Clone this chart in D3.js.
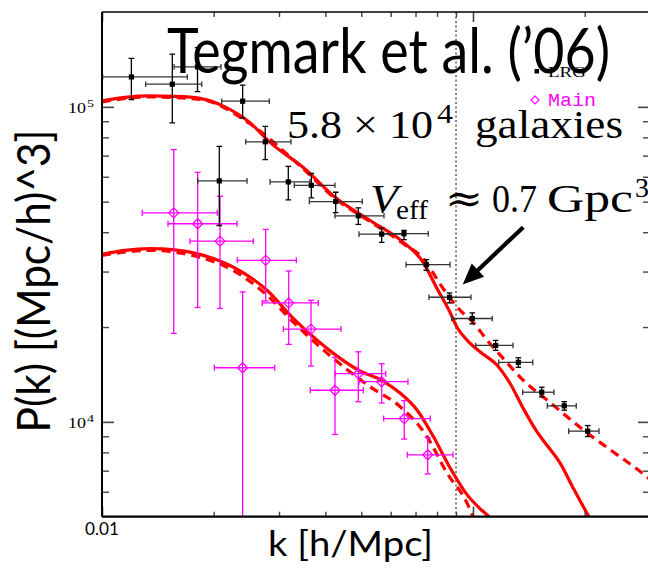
<!DOCTYPE html>
<html>
<head>
<meta charset="utf-8">
<script src="https://cdn.jsdelivr.net/npm/d3@7"></script>
<style>
  body { margin: 0; background: #fff; }
  svg { display: block; }
</style>
</head>
<body>
<svg id="chart" width="648" height="568"></svg>
<script>
// ---- LRG band powers (black squares) ----
const lrgK   = [0.0120, 0.01547, 0.01809, 0.02394, 0.02071, 0.02755, 0.03178, 0.03666, 0.04265, 0.04908,
                0.05674, 0.06516, 0.07483, 0.08644, 0.09956, 0.1151, 0.1325, 0.1532, 0.1762, 0.2038];
const lrgKlo = [0.01004, 0.01311, 0.01564, 0.02102, 0.01811, 0.0244, 0.02837, 0.03298, 0.03621, 0.04246,
                0.04929, 0.05674, 0.06598, 0.0761, 0.08761, 0.1017, 0.1173, 0.1361, 0.1586, 0.1811];
const lrgKhi = [0.01698, 0.01857, 0.02093, 0.02824, 0.0246, 0.03232, 0.03636, 0.04246, 0.05031, 0.05756,
                0.06516, 0.07577, 0.0867, 0.09877, 0.1127, 0.1282, 0.1449, 0.1653, 0.1898, 0.2186];
const lrgP   = [124400, 118000, 133900, 104200, 58200, 77460, 57770, 56350, 50050, 45090,
                39450, 39560, 31550, 24860, 21290, 17480, 15450, 12420, 11240, 9345];
const lrgPhi = [142600, 146900, 154100, 117200, 74870, 86650, 64740, 61520, 53560, 47800,
                41310, 40520, 32730, 25660, 22180, 18140, 15980, 12880, 11590, 9734];
const lrgPlo = [105500, 89000, 111800, 92100, 42010, 67970, 50670, 51420, 46180, 42330,
                37110, 37860, 30270, 23850, 20470, 16860, 14900, 12000, 10890, 8984];

// ---- Main sample band powers (magenta diamonds) ----
const mainK   = [0.01561, 0.01811, 0.0208, 0.02762, 0.03186, 0.02394, 0.03659, 0.04246, 0.04908, 0.05674, 0.06528, 0.07549];
const mainKlo = [0.01284, 0.01506, 0.01726, 0.02315, 0.02704, 0.02008, 0.03081, 0.03643, 0.04246, 0.04929, 0.05745, 0.06651];
const mainKhi = [0.02046, 0.02311, 0.02557, 0.0334, 0.03828, 0.02921, 0.04408, 0.05063, 0.05817, 0.0668, 0.07672, 0.08833];
const mainP   = [46080, 42540, 37470, 32560, 23850, 14850, 19700, 12600, 14220, 13410, 10240, 7860];
const mainPhi = [73100, 61980, 52020, 40820, 30120, 25850, 24330, 16020, 16690, 15290, 11680, 8918];
const mainPlo = [19090, 23070, 22900, 24200, 17620, 3000, 15040, 9117, 11590, 11480, 8817, 6831];

// ---- Model spectra: solid = linear (with wiggles), dashed = nonlinear ----
const lrgLinK = [0.0100, 0.01153, 0.01347, 0.01573, 0.01837, 0.02145, 0.02506, 0.02837, 0.03482, 0.0430,
                 0.05278, 0.06477, 0.07332, 0.07998, 0.0867, 0.09054, 0.09634, 0.1044, 0.1160, 0.1258,
                 0.1364, 0.1488, 0.1564, 0.1716, 0.1860, 0.2054, 0.212];
const lrgLinP = [104500, 107200, 108300, 107900, 106400, 100000, 89000, 77090, 64280, 51050,
                 43570, 37200, 32160, 26500, 22290, 19980, 18180, 16690, 15150, 13260,
                 11070, 9297, 8581, 7410, 6182, 5000, 4700];
const lrgNlK = [0.0100, 0.01347, 0.01837, 0.02506, 0.03482, 0.0430, 0.05278, 0.06477, 0.07332, 0.08301,
                0.09226, 0.1, 0.1091, 0.1204, 0.1339, 0.1643, 0.2029, 0.2384, 0.2963, 0.31];
const lrgNlP = [103700, 107500, 105600, 88350, 63680, 50600, 43260, 36850, 33040, 26550,
                22620, 20730, 18180, 15940, 13880, 11320, 9230, 8040, 6649, 6350];
const mainLinK = [0.0100, 0.01153, 0.01347, 0.01573, 0.01837, 0.02255, 0.02784, 0.03272, 0.03822, 0.04195,
                  0.0496, 0.05721, 0.06357, 0.07065, 0.07801, 0.0867, 0.09634, 0.1044, 0.1104, 0.114];
const mainLinP = [34010, 35020, 35450, 35150, 34010, 31010, 26170, 21340, 18050, 16530,
                  14500, 13480, 12350, 10910, 9031, 7153, 5875, 5307, 5000, 4800];
const mainNlK = [0.0100, 0.01347, 0.01837, 0.02255, 0.02784, 0.03272, 0.04042, 0.05278, 0.06357, 0.07516,
                 0.0851, 0.09634, 0.1, 0.103];
const mainNlP = [33770, 35020, 33280, 30270, 25230, 20770, 16530, 12930, 11180, 8984,
                 6881, 5531, 5000, 4700];

// ---- Axis ticks ----
const kMajor = [0.01, 0.1];
const kMinor = [0.02, 0.03, 0.04, 0.05, 0.06, 0.07, 0.08, 0.09, 0.2, 0.3];
const pMajor = [1e4, 1e5];
const pMinor = [6000, 7000, 8000, 9000, 20000, 30000, 40000, 50000, 60000, 70000, 80000, 90000];
const kMarker = 0.09;   // dotted vertical reference

const svg = d3.select("#chart");
const L = 102, R = 650, T = 12, B = 516.7;

const x = d3.scaleLog().domain([0.01, 0.3]).range([L, R]);
const y = d3.scaleLog().domain([5000, 2e5]).range([B, T]);

svg.append("rect").attr("width", 648).attr("height", 568).attr("fill", "#fff");

svg.append("defs").append("clipPath").attr("id", "plotClip")
  .append("rect").attr("x", L).attr("y", T).attr("width", R - L).attr("height", B - T);

const plot = svg.append("g").attr("clip-path", "url(#plotClip)");

// dotted reference line
plot.append("line")
  .attr("x1", x(kMarker)).attr("x2", x(kMarker)).attr("y1", T).attr("y2", B)
  .attr("stroke", "#666").attr("stroke-width", 1.6).attr("stroke-dasharray", "2,2.5");

// model curves
const line = d3.line().x(d => x(d[0])).y(d => y(d[1])).curve(d3.curveMonotoneX);
function curve(ks, ps, dashed) {
  plot.append("path")
    .datum(ks.map((k, i) => [k, ps[i]]))
    .attr("d", line)
    .attr("fill", "none")
    .attr("stroke", "#ff0000")
    .attr("stroke-width", 3.2)
    .attr("stroke-dasharray", dashed ? "9,6" : null);
}
curve(lrgNlK, lrgNlP, true);
curve(mainNlK, mainNlP, true);
curve(lrgLinK, lrgLinP, false);
curve(mainLinK, mainLinP, false);

// error bars with caps
function errorBars(ks, klo, khi, ps, plo, phi, colX, colY, cap) {
  const g = plot.append("g");
  ks.forEach((k, i) => {
    const cx = x(k), cy = y(ps[i]);
    const x0 = x(klo[i]), x1 = x(khi[i]);
    const y0 = y(phi[i]), y1 = y(plo[i]);
    g.append("line").attr("x1", x0).attr("x2", x1).attr("y1", cy).attr("y2", cy)
      .attr("stroke", colX).attr("stroke-width", 1.3);
    [x0, x1].forEach(xx => g.append("line").attr("x1", xx).attr("x2", xx)
      .attr("y1", cy - cap).attr("y2", cy + cap).attr("stroke", colX).attr("stroke-width", 1.3));
    g.append("line").attr("x1", cx).attr("x2", cx).attr("y1", y0).attr("y2", y1)
      .attr("stroke", colY).attr("stroke-width", 1.3);
    [y0, y1].forEach(yy => g.append("line").attr("y1", yy).attr("y2", yy)
      .attr("x1", cx - cap).attr("x2", cx + cap).attr("stroke", colY).attr("stroke-width", 1.3));
  });
}

errorBars(mainK, mainKlo, mainKhi, mainP, mainPlo, mainPhi, "#ff00ff", "#ff00ff", 3);
plot.append("g").selectAll("path").data(mainK).join("path")
  .attr("d", (k, i) => {
    const cx = x(k), cy = y(mainP[i]), r = 5;
    return `M${cx},${cy - r}L${cx + r},${cy}L${cx},${cy + r}L${cx - r},${cy}Z`;
  })
  .attr("fill", "none").attr("stroke", "#ff00ff").attr("stroke-width", 1.3);

errorBars(lrgK, lrgKlo, lrgKhi, lrgP, lrgPlo, lrgPhi, "#333", "#000", 2.8);
plot.append("g").selectAll("rect").data(lrgK).join("rect")
  .attr("x", k => x(k) - 2.6).attr("y", (k, i) => y(lrgP[i]) - 2.6)
  .attr("width", 5.2).attr("height", 5.2).attr("fill", "#000");

// ---- axes: inward ticks on all four sides ----
const tickCol = "#444";
function ticks(axisGen, vals, size, tx, ty, width) {
  const g = svg.append("g").attr("transform", `translate(${tx},${ty})`)
    .call(axisGen.tickValues(vals).tickSizeInner(size).tickSizeOuter(0).tickFormat(""));
  g.select(".domain").remove();
  g.selectAll(".tick line").attr("stroke", tickCol).attr("stroke-width", width);
}
ticks(d3.axisLeft(y), pMinor, -7, L, 0, 1.4);
ticks(d3.axisLeft(y), pMajor, -12, L, 0, 1.6);
ticks(d3.axisRight(y), pMinor, -7, R, 0, 1.4);
ticks(d3.axisRight(y), pMajor, -12, R, 0, 1.6);
ticks(d3.axisBottom(x), kMinor, -5, 0, B, 1.4);
ticks(d3.axisBottom(x), kMajor, -10, 0, B, 1.6);
ticks(d3.axisTop(x), kMinor, -5, 0, T, 1.4);
ticks(d3.axisTop(x), kMajor, -10, 0, T, 1.6);

// frame
svg.append("line").attr("x1", L).attr("x2", L).attr("y1", T).attr("y2", B).attr("stroke", "#000").attr("stroke-width", 2);
svg.append("line").attr("x1", L).attr("x2", R).attr("y1", B).attr("y2", B).attr("stroke", "#000").attr("stroke-width", 2.2);
svg.append("line").attr("x1", L).attr("x2", R).attr("y1", T).attr("y2", T).attr("stroke", "#000").attr("stroke-width", 1.6);

// ---- text helpers ----
function txt(str, px, py, size, family, opts = {}) {
  const t = svg.append("text").attr("x", px).attr("y", py).text(str)
    .attr("font-size", size).attr("font-family", family)
    .attr("fill", opts.fill || "#000");
  if (opts.italic) t.attr("font-style", "italic");
  if (opts.anchor) t.attr("text-anchor", opts.anchor);
  if (opts.w) t.attr("textLength", opts.w).attr("lengthAdjust", "spacingAndGlyphs");
  if (opts.transform) t.attr("transform", opts.transform);
  return t;
}
const serif = "'Liberation Serif', 'DejaVu Serif', serif";
const sans = "Lato, 'Open Sans', sans-serif";

// y tick labels (10^4, 10^5)
pMajor.forEach(v => {
  const e = Math.round(Math.log10(v));
  txt("10", 68, y(v) + 6, 15.5, serif, { w: 18 });
  txt(String(e), 87, y(v) + 0.5, 11, serif, { w: 7 });
});
// x tick label
txt("0.01", x(0.01), 535, 18, sans, { anchor: "middle", w: 34 });

// axis titles
txt("k [h/Mpc]", 268, 556, 34, sans, { w: 165 });
txt("P(k) [(Mpc/h)^3]", 0, 0, 46, sans, { anchor: "middle", w: 303, transform: "translate(50,281) rotate(-90)" });

// legend
svg.append("rect").attr("x", 534.5).attr("y", 69).attr("width", 4.5).attr("height", 4.5).attr("fill", "#000");
txt("LRG", 548, 77, 15, serif, { w: 38 });
const dx = 535, dy = 100, dr = 4;
svg.append("path").attr("d", `M${dx},${dy - dr}L${dx + dr},${dy}L${dx},${dy + dr}L${dx - dr},${dy}Z`)
  .attr("fill", "none").attr("stroke", "#ff00ff").attr("stroke-width", 1.2);
txt("Main", 548, 106, 19, "'Liberation Mono', 'DejaVu Sans Mono', monospace", { fill: "#ff00ff", w: 48 });

// title
txt("Tegmark et al. (\u201906)", 167, 73, 62, sans, { w: 443 });

// survey annotations
txt("5.8 \u00d7 10", 287, 138, 40, serif, { w: 146 });
txt("4", 437, 123, 27, serif, { w: 16 });
txt("galaxies", 475, 138, 40, serif, { w: 148 });

txt("V", 370, 212, 40, serif, { italic: true, w: 28 });
txt("eff", 396, 219, 28, serif, { w: 32 });
txt("\u2248", 445, 212, 40, "'DejaVu Serif', serif", { w: 38 });
txt("0.7", 492, 212, 40, serif, { w: 45 });
txt("Gpc", 547, 212, 40, serif, { w: 86 });
txt("3", 635, 197, 27, serif, { w: 14 });

// arrow pointing at the LRG turnover region
const arrowFrom = [0.1366, 41500], arrowTo = [0.0938, 27280];
const ax0 = x(arrowFrom[0]), ay0 = y(arrowFrom[1]), ax1 = x(arrowTo[0]), ay1 = y(arrowTo[1]);
const ang = Math.atan2(ay1 - ay0, ax1 - ax0), hl = 21, hw = 9;
const bx = ax1 - hl * Math.cos(ang), by = ay1 - hl * Math.sin(ang);
svg.append("line").attr("x1", ax0).attr("y1", ay0).attr("x2", bx + 3 * Math.cos(ang)).attr("y2", by + 3 * Math.sin(ang))
  .attr("stroke", "#000").attr("stroke-width", 4.2);
svg.append("path")
  .attr("d", `M${ax1},${ay1}L${bx + hw * Math.sin(ang)},${by - hw * Math.cos(ang)}L${bx - hw * Math.sin(ang)},${by + hw * Math.cos(ang)}Z`)
  .attr("fill", "#000");
</script>
</body>
</html>
